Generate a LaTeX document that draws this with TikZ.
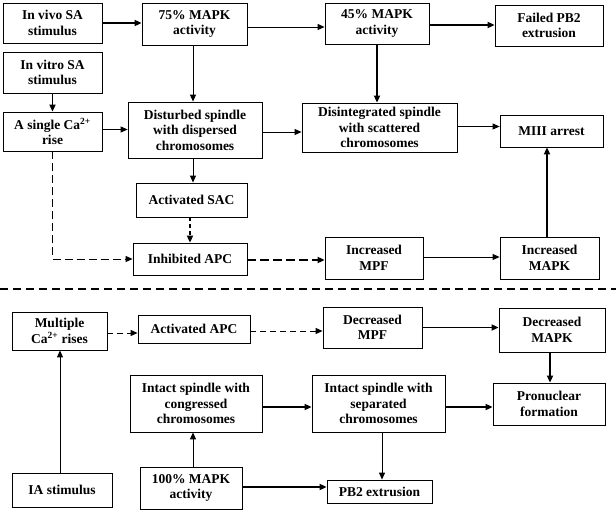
\documentclass[tikz,border=0pt]{standalone}
\usepackage{fontspec}
\setmainfont{Liberation Serif}
\usetikzlibrary{arrows.meta}
\begin{document}
\begin{tikzpicture}[x=1pt,y=-1pt,
  box/.style={draw, line width=0.8pt, align=center, inner sep=0pt,
    font=\fontsize{13.5}{15.5}\selectfont\bfseries},
  thin/.style={line width=0.9pt, -{Triangle[length=7pt,width=6pt]}},
  thick/.style={line width=1.8pt, -{Triangle[length=7pt,width=6pt]}},
  dsh/.style={line width=0.9pt, dash pattern=on 8pt off 4pt, -{Triangle[length=7pt,width=6pt]}},
  dshs/.style={line width=1pt, dash pattern=on 6pt off 4pt, -{Triangle[length=7pt,width=6pt]}},
  dshthick/.style={line width=1.8pt, dash pattern=on 9pt off 4pt, -{Triangle[length=7pt,width=6pt]}}]
\useasboundingbox (0,0) rectangle (616,513);
\newcommand{\bx}[6]{\node[box, minimum width=#4pt, minimum height=#5pt] (#1) at (#2,#3) {#6};}
\bx{invivo}{52.5}{23}{99}{40}{In vivo SA\\stimulus}
\bx{m75}{194.5}{24}{105}{42}{75\% MAPK\\activity}
\bx{m45}{377}{23.5}{104}{41}{45\% MAPK\\activity}
\bx{failed}{549}{25.5}{108}{41}{Failed PB2\\extrusion}
\bx{invitro}{52.5}{72.5}{99}{41}{In vitro SA\\stimulus}
\bx{single}{52.5}{131.5}{99}{39}{A single Ca\textsuperscript{2+}\\rise}
\bx{disturbed}{195}{130}{134}{56}{Disturbed spindle\\with dispersed\\chromosomes}
\bx{disint}{379.5}{127.5}{155}{49}{Disintegrated spindle\\with scattered\\chromosomes}
\bx{miii}{551.5}{131}{103}{32}{MIII arrest}
\bx{sac}{191.5}{200}{111}{34}{Activated SAC}
\bx{inhib}{190}{259}{114}{32}{Inhibited APC}
\bx{incmpf}{374}{258}{98}{42}{Increased\\MPF}
\bx{incmapk}{549.5}{258}{99}{42}{Increased\\MAPK}
\bx{multi}{59.5}{331}{95}{38}{Multiple\\Ca\textsuperscript{2+} rises}
\bx{actapc}{194}{329}{112}{28}{Activated APC}
\bx{decmpf}{372.5}{327.5}{99}{41}{Decreased\\MPF}
\bx{decmapk}{552}{330}{106}{44}{Decreased\\MAPK}
\bx{congr}{196}{403.5}{132}{57}{Intact spindle with\\congressed\\chromosomes}
\bx{sep}{378.5}{403.5}{133}{57}{Intact spindle with\\separated\\chromosomes}
\bx{pron}{549}{404}{112}{42}{Pronuclear\\formation}
\bx{ia}{62}{490}{100}{34}{IA stimulus}
\bx{m100}{191}{488}{102}{42}{100\% MAPK\\activity}
\bx{pb2}{379.5}{491.5}{105}{23}{PB2 extrusion}
% separator
\coordinate (sepL) at (0,289);
\coordinate (sepR) at (616,289);
\draw[line width=2.2pt, dash pattern=on 8pt off 5pt] (sepL) -- (sepR);
% upper connectors
\draw[thick] (invivo.east) -- (invivo.east -| m75.west);
\draw[thin] ([yshift=-3pt]m75.east) -- ([yshift=-3pt]m75.east -| m45.west);
\draw[thick] ([yshift=-1.5pt]m45.east) -- ([yshift=-1.5pt]m45.east -| failed.west);
\draw[thin] ([xshift=-1.5pt]m75.south) -- ([xshift=-1.5pt]m75.south |- disturbed.north);
\draw[thick] (invitro.south) -- (invitro.south |- single.north);
\draw[thin] ([yshift=2pt]single.east) -- ([yshift=2pt]single.east -| disturbed.west);
\draw[thin] ([yshift=-2pt]disturbed.east) -- ([yshift=-2pt]disturbed.east -| disint.west);
\draw[thick] (m45.south) -- (m45.south |- disint.north);
\draw[thin] ([yshift=1pt]disint.east) -- ([yshift=1pt]disint.east -| miii.west);
\draw[thick] ([xshift=-2.5pt]incmapk.north) -- ([xshift=-2.5pt]incmapk.north |- miii.south);
\draw[thin] ([xshift=-2pt]disturbed.south) -- ([xshift=-2pt]disturbed.south |- sac.north);
\draw[line width=1.8pt, dash pattern=on 4pt off 3pt, -{Triangle[length=7pt,width=6pt]}] ([xshift=-1.5pt]sac.south) -- ([xshift=-1.5pt]sac.south |- inhib.north);
\draw[dsh] (single.south) -- (single.south |- inhib.west) -- (inhib.west);
\draw[dshthick] ([yshift=-1pt]inhib.east) -- ([yshift=-1pt]inhib.east -| incmpf.west);
\draw[thin] ([yshift=1pt]incmpf.east) -- ([yshift=1pt]incmpf.east -| incmapk.west);
% lower connectors
\draw[dshs] ([yshift=-2pt]multi.east) -- ([yshift=-2pt]multi.east -| actapc.west);
\draw[dshs] ([yshift=-2pt]actapc.east) -- ([yshift=-2pt]actapc.east -| decmpf.west);
\draw[thick] (decmpf.east) -- (decmpf.east -| decmapk.west);
\draw[thick] ([xshift=-2pt]decmapk.south) -- ([xshift=-2pt]decmapk.south |- pron.north);
\draw[thick] ([yshift=-3.5pt]congr.east) -- ([yshift=-3.5pt]congr.east -| sep.west);
\draw[thick] ([yshift=-3.5pt]sep.east) -- ([yshift=-3.5pt]sep.east -| pron.west);
\draw[thin] ([xshift=3.5pt]sep.south) -- ([xshift=3.5pt]sep.south |- pb2.north);
\draw[thin] ([xshift=-2pt]ia.north) -- ([xshift=-2pt]ia.north |- multi.south);
\draw[thin] ([xshift=2pt]m100.north) -- ([xshift=2pt]m100.north |- congr.south);
\draw[thick] ([yshift=1pt]m100.east) -- ([yshift=1pt]m100.east -| pb2.west);
\end{tikzpicture}
\end{document}
